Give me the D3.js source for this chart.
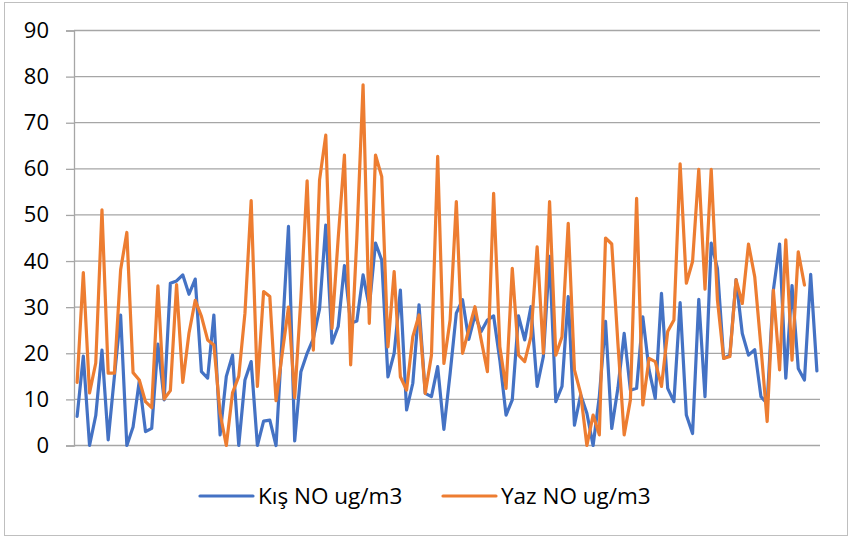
<!DOCTYPE html>
<html><head><meta charset="utf-8">
<script src="https://cdn.jsdelivr.net/npm/d3@7"></script>
<style>
html,body{margin:0;padding:0;background:#fff;}
svg{display:block;}
text{font-family:"Open Sans","Liberation Sans",sans-serif;fill:#000;}
</style></head>
<body>
<svg id="chart" width="854" height="542"></svg>
<script>
const categories = d3.range(1, 121);
const kisNO = [6.3,19.4,0,6.5,20.7,1.2,15,28.3,0,4,14,3,3.7,22,9.9,35.2,35.7,37,32.8,36.1,
16,14.6,28.3,2.3,15,19.6,0,14.2,18.2,0,5.3,5.5,0,24,47.5,1,16,20,23.2,29.6,
47.8,22.2,25.8,39,26.5,27,37,30,43.9,40.2,14.9,20,33.7,7.7,13.5,30.5,11.3,10.6,17.1,3.5,
15.6,28.7,31.6,23,28.3,24.7,27.2,28.1,18.5,6.6,9.9,28.1,22.9,30.1,12.8,19.3,41,9.5,12.8,32.3,
4.4,11,7,0,10.6,26.9,3.7,12.5,24.3,12,12.4,27.9,16.4,10.2,33,12.4,9.5,31,6.6,2.6,
31.7,10.6,43.9,38.4,18.9,19.6,36,24.3,19.6,20.8,10.6,9.1,33.7,43.7,14.6,34.7,16.7,14.2,37.1,16.2];
const yazNO = [13.7,37.5,11.4,17.9,51.1,15.7,15.7,38.1,46.2,15.8,14.2,9.5,8.2,34.6,10.1,11.9,34.9,13.7,24.4,31.5,
28,22.9,21.8,7,0,11.4,15,28.7,53.1,12.8,33.4,32.3,9.7,20,30,10.4,32,57.4,20.7,57.6,
67.3,25.4,45,63,17.5,45,78.2,26.5,63,58.3,21.4,37.7,14.9,12,23.6,28.3,11.3,19.6,62.7,17.8,
27.2,52.9,20,25.1,30.1,22.9,16,54.7,21.4,12.4,38.4,19.6,18.2,23.6,43.1,20,52.9,19.6,23.6,48.2,
16.4,11.3,0,6.6,2.3,45,43.7,22,2.3,9.9,53.6,8.8,18.9,18.2,12.8,24.7,27.2,61.1,35.2,39.9,
59.9,33.9,59.9,31.6,18.9,19.3,35.9,30.8,43.7,36.6,21.4,5.2,33.7,16.4,44.6,18.5,42,34.8];
const yTicks = [0,10,20,30,40,50,60,70,80,90];
const seriesNames = ["Kış NO ug/m3","Yaz NO ug/m3"];
const seriesColors = ["#4472C4","#ED7D31"];

const svg = d3.select("#chart");
const W = 854, H = 542;
const m = {left:74, right:34, top:30.5, bottom:96.5};

svg.append("rect").attr("x",4.5).attr("y",2.5).attr("width",843).attr("height",533)
  .attr("fill","#fff").attr("stroke","#bfbfbf").attr("stroke-width",1);

const x = d3.scaleBand().domain(categories).range([m.left, W - m.right]);
const y = d3.scaleLinear().domain([0,90]).range([H - m.bottom, m.top]);

// gridlines
svg.append("g").selectAll("line").data(yTicks).join("line")
  .attr("x1", m.left).attr("x2", W - m.right)
  .attr("y1", d => y(d)).attr("y2", d => y(d))
  .attr("stroke","#a6a6a6").attr("stroke-width",1.3);

// y axis
const yAxis = d3.axisLeft(y).tickValues(yTicks).tickSize(8).tickPadding(17).tickFormat(d3.format("d"));
const ga = svg.append("g").attr("transform",`translate(${m.left},0)`).call(yAxis);
ga.select(".domain").attr("stroke","#a6a6a6").attr("stroke-width",1.3);
ga.selectAll(".tick line").attr("stroke","#a6a6a6").attr("stroke-width",1.3);
ga.selectAll(".tick text").attr("font-size",22).attr("font-family","'Open Sans',sans-serif").attr("fill","#000");

const xc = i => x(categories[i]) + x.bandwidth()/2;
const line = d3.line().x((d,i) => xc(i)).y(d => y(d));

[kisNO, yazNO].forEach((s, k) => {
  svg.append("path").datum(s).attr("d", line)
    .attr("fill","none").attr("stroke", seriesColors[k]).attr("stroke-width",3.2)
    .attr("stroke-linejoin","round").attr("stroke-linecap","round");
});

// legend
const legX = [200, 443];
const lg = svg.append("g");
seriesNames.forEach((n, k) => {
  lg.append("line").attr("x1", legX[k]).attr("x2", legX[k] + 53).attr("y1", 496).attr("y2", 496)
    .attr("stroke", seriesColors[k]).attr("stroke-width",3.2).attr("stroke-linecap","round");
  lg.append("text").attr("x", legX[k] + 58).attr("y", 496).attr("dy","0.36em")
    .attr("font-size",22.5).text(n);
});
</script>
</body></html>
